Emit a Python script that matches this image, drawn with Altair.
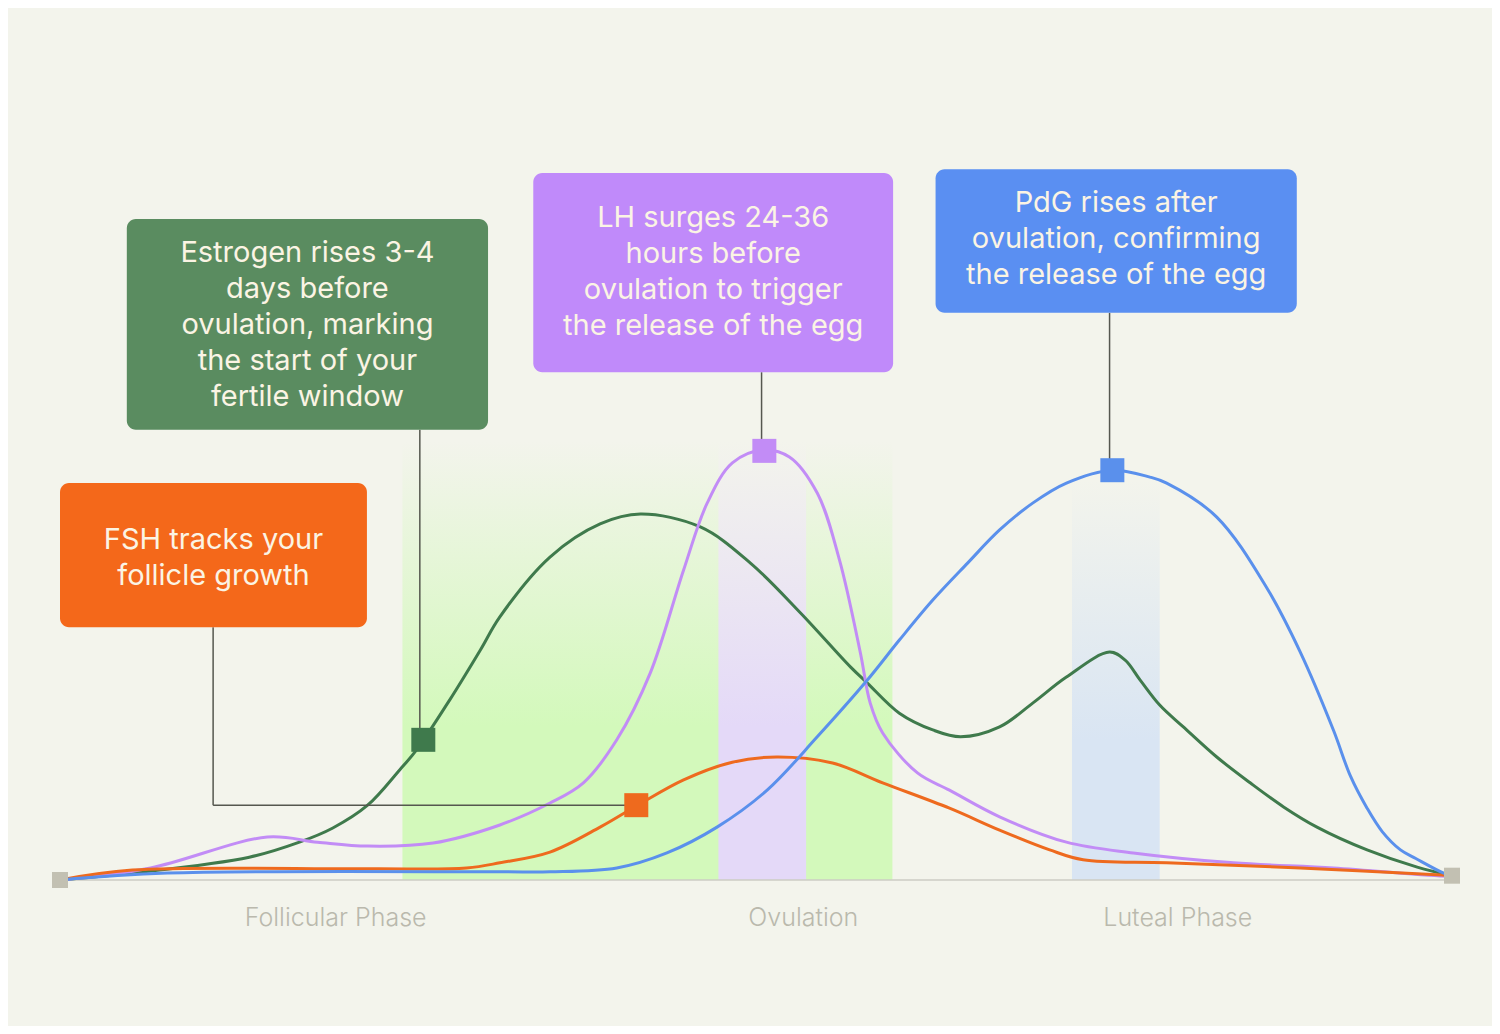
import altair as alt
import pandas as pd

# x: position in the cycle (0-100 %), y: relative hormone level (LH peak = 100)
estrogen_x = [0, 5.2, 13.6, 17.2, 19.6, 22.1, 24.4, 25.6, 28.0, 30.2, 31.6, 35.2, 38.8, 41.7,
              46.0, 49.6, 53.2, 56.8, 58.0, 60.3, 62.7, 64.7, 67.5, 69.9, 72.3, 75.4, 76.5,
              77.6, 79.0, 80.7, 83.1, 85.5, 87.9, 90.3, 93.9, 97.5, 100]
estrogen_y = [0, 1.6, 5.3, 8.8, 12.1, 17.4, 25.6, 30.2, 41.9, 53.5, 61.2, 75.1, 82.8, 85.1,
              82.1, 73.7, 62.1, 49.5, 45.8, 38.8, 34.9, 33.3, 35.6, 41.2, 47.2, 53.0, 51.2,
              46.5, 40.7, 35.6, 28.6, 22.6, 17.0, 12.3, 7.0, 3.0, 1.0]

lh_x = [0, 6.5, 14.9, 18.5, 22.1, 26.8, 31.6, 35.2, 37.6, 40.0, 42.4, 44.8, 46.5, 48.3, 50.5,
        52.4, 54.4, 56.0, 57.5, 58.2, 59.1, 61.6, 63.9, 67.5, 72.3, 77.1, 84.3, 91.5, 99.6, 100]
lh_y = [0, 2.8, 10.0, 8.8, 7.9, 8.6, 12.8, 17.9, 22.6, 32.6, 48.1, 72.1, 87.7, 97.0, 100.0,
        98.4, 90.0, 74.4, 52.8, 41.2, 34.2, 24.9, 20.9, 14.7, 8.8, 6.3, 4.0, 2.8, 0.9, 1.0]

fsh_x = [0, 5.2, 22.1, 29.2, 31.6, 35.2, 38.8, 41.5, 44.8, 48.3, 51.5, 55.5, 59.1, 63.9, 67.5,
         71.1, 73.5, 79.5, 89.1, 99.6, 100]
fsh_y = [0, 2.3, 2.6, 2.8, 4.0, 6.5, 12.3, 17.4, 23.3, 27.4, 28.6, 27.2, 22.6, 16.7, 11.6,
         7.0, 4.7, 4.0, 2.8, 1.1, 1.0]

pdg_x = [0, 7.7, 31.6, 35.2, 40.0, 43.6, 47.2, 50.8, 54.4, 58.0, 60.3, 62.7, 65.2, 67.5, 69.9,
         72.3, 75.6, 78.3, 79.5, 83.1, 86.7, 89.1, 91.5, 92.7, 93.9, 95.0, 96.3, 97.4, 99.4, 100]
pdg_y = [0, 1.6, 1.9, 1.9, 2.8, 6.3, 12.3, 20.9, 33.3, 46.5, 55.8, 65.1, 73.7, 81.4, 87.7,
         92.3, 95.3, 93.7, 92.3, 84.4, 67.9, 53.0, 34.7, 24.2, 16.7, 11.2, 7.0, 5.0, 1.6, 1.0]

# highlighted points on each curve
marker_x = [26.1, 41.4, 50.6, 75.6]
marker_y = [32.6, 17.4, 99.8, 95.3]

# annotation boxes (text_y is the first line of each label)
box_x0 = [0, 4.8, 34.0, 62.9]
box_x1 = [22.05, 30.75, 59.85, 88.85]
box_y0 = [58.8, 104.7, 118.1, 131.9]
box_y1 = [92.3, 153.7, 164.4, 165.3]
text_y = [79.1, 145.8, 154.0, 157.4]
box_text = [
    "FSH tracks your\nfollicle growth",
    "Estrogen rises 3-4\ndays before\novulation, marking\nthe start of your\nfertile window",
    "LH surges 24-36\nhours before\novulation to trigger\nthe release of the egg",
    "PdG rises after\novulation, confirming\nthe release of the egg",
]

# leader lines from the boxes to the markers
lead_x = [11.0, 11.0, 25.85, 50.4, 75.4]
lead_x2 = [11.0, 41.4, 25.85, 50.4, 75.4]
lead_y = [58.8, 17.4, 104.7, 118.1, 131.9]
lead_y2 = [17.4, 17.4, 32.6, 99.8, 95.3]

# phase bands
band_x0 = [24.6, 47.3, 72.7]
band_x1 = [59.8, 53.6, 79.0]
band_top = [102, 102, 93]

phase_names = ["Follicular Phase", "Ovulation", "Luteal Phase"]
phase_x = [19.8, 53.4, 80.3]

BG = "#f3f4ec"
GREEN, PURPLE, ORANGE, BLUE = "#3f7a4c", "#c28cf6", "#ee6a1e", "#5a90ec"
BOX_COLORS = ["#f4681a", "#5a8c60", "#c08afa", "#5a8ff2"]
BAND_COLORS = ["#d3f9bb", "#e4d9f8", "#d9e5f3"]
FONT = "Inter"

xs = alt.Scale(domain=[0, 100], nice=False, zero=False)
ys = alt.Scale(domain=[0, 200], nice=False, zero=False)


def X(f="x"):
    return alt.X(f"{f}:Q", scale=xs, axis=None)


def Y(f="y"):
    return alt.Y(f"{f}:Q", scale=ys, axis=None)


def band(i):
    df = pd.DataFrame({"x": [band_x0[i]], "x2": [band_x1[i]], "y": [0], "y2": [band_top[i]]})
    grad = alt.Gradient(
        gradient="linear", x1=0, x2=0, y1=1, y2=0,
        stops=[alt.GradientStop(color=BAND_COLORS[i], offset=0),
               alt.GradientStop(color=BAND_COLORS[i], offset=0.35),
               alt.GradientStop(color=BG, offset=1)],
    )
    return alt.Chart(df).mark_rect(color=grad).encode(x=X(), x2="x2", y=Y(), y2="y2")


def curve(xv, yv, color):
    df = pd.DataFrame({"x": xv, "y": yv})
    return alt.Chart(df).mark_line(color=color, strokeWidth=3, interpolate="catmull-rom").encode(
        x=X(), y=Y()
    )


bands = [band(i) for i in range(3)]

baseline = alt.Chart(pd.DataFrame({"x": [0], "x2": [100], "y": [0]})).mark_rule(
    color="#cdcdc4", strokeWidth=1.5
).encode(x=X(), x2="x2", y=Y())

curves = [
    curve(estrogen_x, estrogen_y, GREEN),
    curve(lh_x, lh_y, PURPLE),
    curve(fsh_x, fsh_y, ORANGE),
    curve(pdg_x, pdg_y, BLUE),
]

leaders = alt.Chart(pd.DataFrame({"x": lead_x, "x2": lead_x2, "y": lead_y, "y2": lead_y2})).mark_rule(
    color="#55574f", strokeWidth=1.5
).encode(x=X(), x2="x2", y=Y(), y2="y2")

ends = alt.Chart(pd.DataFrame({"x": [0, 100], "y": [0, 1]})).mark_square(
    size=256, color="#c2c0b2", opacity=1
).encode(x=X(), y=Y())

markers = alt.Chart(pd.DataFrame({
    "x": marker_x, "y": marker_y, "c": [GREEN, ORANGE, PURPLE, BLUE]
})).mark_square(size=576, opacity=1).encode(
    x=X(), y=Y(), color=alt.Color("c:N", scale=None)
)

box_df = pd.DataFrame({
    "x": box_x0, "x2": box_x1, "y": box_y0, "y2": box_y1, "c": BOX_COLORS, "t": box_text,
    "xm": [(a + b) / 2 for a, b in zip(box_x0, box_x1)],
    "ym": text_y,
})
boxes = alt.Chart(box_df).mark_rect(cornerRadius=9).encode(
    x=X(), x2="x2", y=Y(), y2="y2", color=alt.Color("c:N", scale=None)
)
box_labels = alt.Chart(box_df).mark_text(
    font=FONT, fontSize=29, lineHeight=36, color="#fbf4e4", align="center",
    baseline="middle", lineBreak="\n"
).encode(x=X("xm"), y=Y("ym"), text="t:N")

phases = alt.Chart(pd.DataFrame({"x": phase_x, "y": [-8.8] * 3, "t": phase_names})).mark_text(
    font=FONT, fontSize=25, fontWeight=300, color="#bab9ad", align="center", baseline="middle"
).encode(x=X(), y=Y(), text="t:N")

chart = alt.layer(
    *bands, baseline, *curves, leaders, ends, markers, boxes, box_labels, phases
).properties(
    width=1392,
    height=860,
    background=BG,
    padding={"left": 52, "top": 12, "right": 40, "bottom": 146},
    autosize=alt.AutoSizeParams(type="none"),
).configure_view(stroke=None)

chart.save("out.html", embed_options={"renderer": "svg", "actions": False})
